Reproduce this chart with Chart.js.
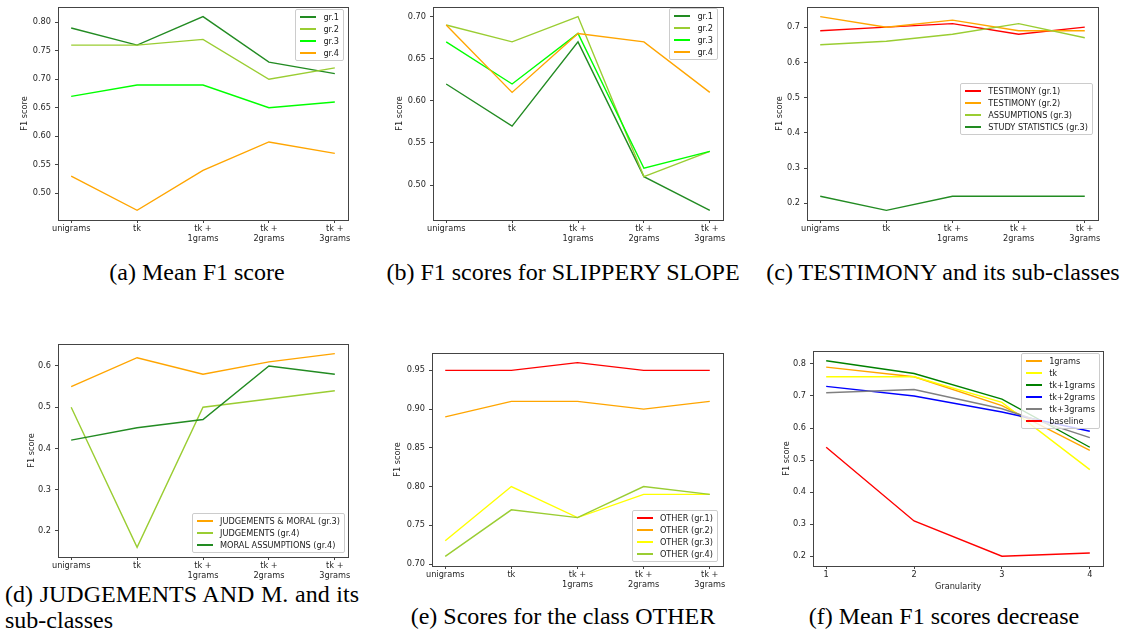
<!DOCTYPE html>
<html>
<head>
<meta charset="utf-8">
<script src="https://cdn.jsdelivr.net/npm/chart.js@4.4.1/dist/chart.umd.min.js"></script>
<style>
  body { margin: 0; background: #fff; }
  #page { position: relative; width: 1125px; height: 639px; overflow: hidden; background: #fff; }
  canvas { position: absolute; }
  .cap { position: absolute; font-family: 'Liberation Serif', 'Times New Roman', serif; font-size: 24px; line-height: 26px; color: #000; white-space: nowrap; transform: translateX(-50%); }
  .cap.just { transform: none; white-space: normal; text-align: justify; }
  .legend { position: absolute; font-family: 'DejaVu Sans', sans-serif; font-size: 8.2px; color: #222; background: rgba(255,255,255,0.8); border: 1px solid #ccc; border-radius: 2px; padding: 1px 4px; }
  .legend div { display: flex; align-items: center; height: 12px; white-space: nowrap; }
  .legend span { display: block; flex: none; width: 16px; height: 2px; margin-right: 7px; }
</style>
</head>
<body>
<div id="page">
  <div class="cap" style="left:197px; top:259px;">(a) Mean F1 score</div>
  <div class="cap" style="left:563px; top:259px;">(b) F1 scores for SLIPPERY SLOPE</div>
  <div class="cap" style="left:943px; top:259px;">(c) TESTIMONY and its sub-classes</div>
  <div class="cap just" style="left:5px; top:581px; width:354px;">(d) JUDGEMENTS AND M. and its sub-classes</div>
  <div class="cap" style="left:563px; top:603px;">(e) Scores for the class OTHER</div>
  <div class="cap" style="left:944px; top:603px;">(f) Mean F1 scores decrease</div>
</div>
<script>
'use strict';

// tick labels
const CATS = ['unigrams', 'tk', ['tk +', '1grams'], ['tk +', '2grams'], ['tk +', '3grams']];
const GRANULARITY = [1, 2, 3, 4];

// (a) mean F1 score
const meanGr1 = [0.79, 0.76, 0.81, 0.73, 0.71];
const meanGr2 = [0.76, 0.76, 0.77, 0.70, 0.72];
const meanGr3 = [0.67, 0.69, 0.69, 0.65, 0.66];
const meanGr4 = [0.53, 0.47, 0.54, 0.59, 0.57];

// (b) slippery slope
const slopeGr1 = [0.62, 0.57, 0.67, 0.51, 0.47];
const slopeGr2 = [0.69, 0.67, 0.70, 0.51, 0.54];
const slopeGr3 = [0.67, 0.62, 0.68, 0.52, 0.54];
const slopeGr4 = [0.69, 0.61, 0.68, 0.67, 0.61];

// (c) testimony
const testimonyGr1 = [0.69, 0.70, 0.71, 0.68, 0.70];
const testimonyGr2 = [0.73, 0.70, 0.72, 0.69, 0.69];
const assumptionsGr3 = [0.65, 0.66, 0.68, 0.71, 0.67];
const studyStatsGr3 = [0.22, 0.18, 0.22, 0.22, 0.22];

// (d) judgements and moral
const judgMoralGr3 = [0.55, 0.62, 0.58, 0.61, 0.63];
const judgGr4 = [0.50, 0.16, 0.50, 0.52, 0.54];
const moralAssGr4 = [0.42, 0.45, 0.47, 0.60, 0.58];

// (e) other
const otherGr1 = [0.95, 0.95, 0.96, 0.95, 0.95];
const otherGr2 = [0.89, 0.91, 0.91, 0.90, 0.91];
const otherGr3 = [0.73, 0.80, 0.76, 0.79, 0.79];
const otherGr4 = [0.71, 0.77, 0.76, 0.80, 0.79];

// (f) decrease by granularity
const dec1grams = [0.79, 0.76, 0.67, 0.53];
const decTk = [0.76, 0.76, 0.68, 0.47];
const decTk1grams = [0.81, 0.77, 0.69, 0.54];
const decTk2grams = [0.73, 0.70, 0.65, 0.59];
const decTk3grams = [0.71, 0.72, 0.66, 0.57];
const decBaseline = [0.54, 0.31, 0.20, 0.21];

const GREEN = '#228B22';
const YGREEN = '#9ACD32';
const LIME = '#00FF00';
const ORANGE = '#FFA500';
const RED = '#FF0000';
const YELLOW = '#FFFF00';
const BLUE = '#0000FF';
const GRAY = '#808080';

const AXIS = '#444';
const TXT = '#262626';
const FONT = { family: 'DejaVu Sans', size: 8.2 };

const page = document.getElementById('page');

const frame = {
    id: 'frame',
    afterDraw(chart) {
        const { ctx, chartArea: a } = chart;
        ctx.save();
        ctx.strokeStyle = AXIS;
        ctx.lineWidth = 1;
        ctx.strokeRect(Math.round(a.left) + 0.5, Math.round(a.top) + 0.5,
                       Math.round(a.right - a.left), Math.round(a.bottom - a.top));
        ctx.restore();
    }
};

function panel(p) {
    const PT = 6, PR = 6, XH = 30;
    const [l, t, r, b] = p.plot;
    const w = p.yW + (r - l) + PR;
    const h = PT + (b - t) + XH;
    const cv = document.createElement('canvas');
    cv.width = w; cv.height = h;
    cv.style.left = (l - p.yW) + 'px';
    cv.style.top = (t - PT) + 'px';
    cv.style.width = w + 'px';
    cv.style.height = h + 'px';
    page.appendChild(cv);

    // matplotlib style 5% margins
    const all = p.series.flatMap(s => s.data);
    const lo = Math.min(...all), hi = Math.max(...all);
    const m = (hi - lo) * 0.05;
    const xs = p.xs || CATS.map((c, i) => i);
    const xm = (xs[xs.length - 1] - xs[0]) * 0.05;

    new Chart(cv, {
        type: 'line',
        data: {
            datasets: p.series.map((s, i) => ({
                label: s.label,
                data: s.data.map((v, j) => ({ x: xs[j], y: v })),
                borderColor: s.color,
                backgroundColor: s.color,
                borderWidth: 1.4,
                pointRadius: 0,
                tension: 0,
                order: -i
            }))
        },
        options: {
            responsive: false,
            animation: false,
            devicePixelRatio: 1,
            layout: { padding: { top: PT, right: PR, left: 0, bottom: 0 } },
            plugins: { legend: { display: false }, tooltip: { enabled: false } },
            scales: {
                x: {
                    type: 'linear',
                    min: xs[0] - xm,
                    max: xs[xs.length - 1] + xm,
                    afterFit: s => { s.height = XH; },
                    grid: { drawOnChartArea: false, tickLength: 3, color: AXIS },
                    border: { display: false },
                    ticks: {
                        stepSize: 1, includeBounds: false, padding: 1, color: TXT, font: FONT,
                        maxRotation: 0, autoSkip: false,
                        callback: v => p.xs ? String(v) : CATS[v]
                    },
                    title: { display: !!p.xTitle, text: p.xTitle || '', color: TXT, font: FONT }
                },
                y: {
                    min: lo - m,
                    max: hi + m,
                    afterFit: s => { s.width = p.yW; },
                    grid: { drawOnChartArea: false, tickLength: 3, color: AXIS },
                    border: { display: false },
                    ticks: {
                        stepSize: p.step, includeBounds: false, padding: 4, color: TXT, font: FONT,
                        callback: v => v.toFixed(p.dec)
                    },
                    title: { display: true, text: 'F1 score', color: TXT, font: FONT }
                }
            }
        },
        plugins: [frame]
    });

    const lg = document.createElement('div');
    lg.className = 'legend';
    lg.style.right = (1125 - p.legend[0]) + 'px';
    lg.style.top = p.legend[1] + 'px';
    lg.innerHTML = p.series.map(s =>
        `<div><span style="background:${s.color}"></span>${s.label}</div>`).join('');
    page.appendChild(lg);
}

panel({
    plot: [58, 4, 348, 220], yW: 42, step: 0.05, dec: 2, legend: [344, 9],
    series: [
        { label: 'gr.1', color: GREEN, data: meanGr1 },
        { label: 'gr.2', color: YGREEN, data: meanGr2 },
        { label: 'gr.3', color: LIME, data: meanGr3 },
        { label: 'gr.4', color: ORANGE, data: meanGr4 }
    ]
});

panel({
    plot: [433, 4, 723, 220], yW: 42, step: 0.05, dec: 2, legend: [718, 8],
    series: [
        { label: 'gr.1', color: GREEN, data: slopeGr1 },
        { label: 'gr.2', color: YGREEN, data: slopeGr2 },
        { label: 'gr.3', color: LIME, data: slopeGr3 },
        { label: 'gr.4', color: ORANGE, data: slopeGr4 }
    ]
});

panel({
    plot: [807, 4, 1098, 220], yW: 36, step: 0.1, dec: 1, legend: [1093, 83],
    series: [
        { label: 'TESTIMONY (gr.1)', color: RED, data: testimonyGr1 },
        { label: 'TESTIMONY (gr.2)', color: ORANGE, data: testimonyGr2 },
        { label: 'ASSUMPTIONS (gr.3)', color: YGREEN, data: assumptionsGr3 },
        { label: 'STUDY STATISTICS (gr.3)', color: GREEN, data: studyStatsGr3 }
    ]
});

panel({
    plot: [58, 341, 348, 557], yW: 35, step: 0.1, dec: 1, legend: [345, 513],
    series: [
        { label: 'JUDGEMENTS &amp; MORAL (gr.3)', color: ORANGE, data: judgMoralGr3 },
        { label: 'JUDGEMENTS (gr.4)', color: YGREEN, data: judgGr4 },
        { label: 'MORAL ASSUMPTIONS (gr.4)', color: GREEN, data: moralAssGr4 }
    ]
});

panel({
    plot: [432, 350, 723, 566], yW: 43, step: 0.05, dec: 2, legend: [718, 510],
    series: [
        { label: 'OTHER (gr.1)', color: RED, data: otherGr1 },
        { label: 'OTHER (gr.2)', color: ORANGE, data: otherGr2 },
        { label: 'OTHER (gr.3)', color: YELLOW, data: otherGr3 },
        { label: 'OTHER (gr.4)', color: YGREEN, data: otherGr4 }
    ]
});

panel({
    plot: [813, 348, 1103, 566], yW: 35, step: 0.1, dec: 1, legend: [1100, 353],
    xs: GRANULARITY, xTitle: 'Granularity',
    series: [
        { label: '1grams', color: ORANGE, data: dec1grams },
        { label: 'tk', color: YELLOW, data: decTk },
        { label: 'tk+1grams', color: '#008000', data: decTk1grams },
        { label: 'tk+2grams', color: BLUE, data: decTk2grams },
        { label: 'tk+3grams', color: GRAY, data: decTk3grams },
        { label: 'baseline', color: RED, data: decBaseline }
    ]
});
</script>
</body>
</html>
